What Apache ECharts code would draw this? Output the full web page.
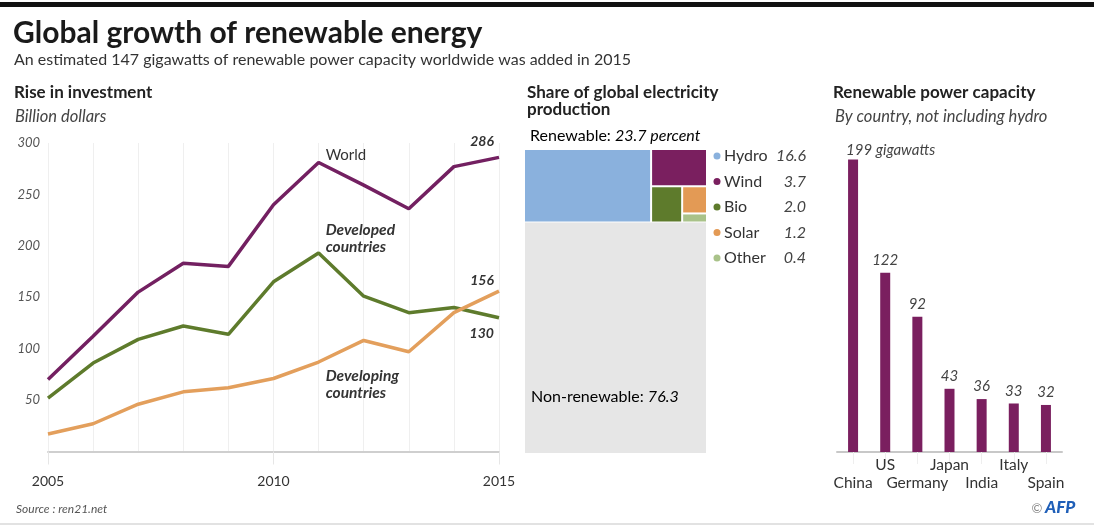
<!DOCTYPE html>
<html><head><meta charset="utf-8">
<script src="https://cdn.jsdelivr.net/npm/echarts@6/dist/echarts.min.js"></script>
<style>html,body{margin:0;padding:0;background:#fff;}#c{width:1094px;height:529px;}</style>
</head><body><div id="c"></div>
<script>
// ---- Data ----
const years = ['2005','2006','2007','2008','2009','2010','2011','2012','2013','2014','2015'];
const worldInvestment      = [70, 112, 155, 183, 180, 240, 281, 259, 236, 277, 286];
const developedInvestment  = [52,  86, 109, 122, 114, 165, 193, 151, 135, 140, 130];
const developingInvestment = [17,  27,  46,  58,  62,  71,  87, 108,  97, 135, 156];
const investmentSeriesNames = ['World', 'Developed countries', 'Developing countries'];

const energySources = ['Hydro', 'Wind', 'Bio', 'Solar', 'Other'];
const energyShares  = [16.6, 3.7, 2.0, 1.2, 0.4];
const renewableTotal = 23.7;
const nonRenewableShare = 76.3;

const countries  = ['China', 'US', 'Germany', 'Japan', 'India', 'Italy', 'Spain'];
const capacityGW = [199, 122, 92, 43, 36, 33, 32];

// ---- Styles ----
const FONT = 'Lato';
const C_WORLD = '#732061', C_DEV = '#5e7b2c', C_DEVING = '#e39f5c';
const energyColors = ['#8ab1dd', '#7a1f5f', '#5e7b2c', '#e39a55', '#a9c289'];

const chart = echarts.init(document.getElementById('c'), null, {renderer: 'canvas'});

function txt(x, y, text, font, fill, align) {
  return {
    type: 'text', x: x, y: y, z: 100, silent: true,
    style: { text: text, font: font, fill: fill || '#222', textAlign: align || 'left',
             textVerticalAlign: 'middle', align: align || 'left', verticalAlign: 'middle' }
  };
}
function richTxt(x, y, text, rich) {
  return { type: 'text', x: x, y: y, z: 100, silent: true,
    style: { text: text, textVerticalAlign: 'middle', verticalAlign: 'middle', rich: rich } };
}

const lastIdx = years.length - 1;
const annIdx = 6; // 2011
function lineData(values, nameLabel, endLabel) {
  return values.map((v, i) => {
    if (i === annIdx) return { value: v, label: Object.assign({ show: true }, nameLabel) };
    if (i === lastIdx) return { value: v, label: Object.assign({ show: true, formatter: '{c}' }, endLabel) };
    return v;
  });
}
const endLabelStyle = { position: 'left', distance: 5, fontFamily: FONT, fontStyle: 'italic', fontWeight: 'bold', fontSize: 14, color: '#333' };
const richPlainItalic = (size) => ({
  n: { fontFamily: FONT, fontSize: size, color: '#444' },
  i: { fontFamily: FONT, fontSize: size, fontStyle: 'italic', color: '#444' }
});

const graphics = [
  { type: 'rect', shape: { x: 0, y: 2, width: 1094, height: 5 }, style: { fill: '#111' }, silent: true },
  txt(13, 33, 'Global growth of renewable energy', 'bold 30px ' + FONT, '#1a1a1a'),
  txt(14, 60, 'An estimated 147 gigawatts of renewable power capacity worldwide was added in 2015', '16px ' + FONT, '#333'),
  txt(14, 93, 'Rise in investment', 'bold 17px ' + FONT, '#222'),
  txt(15, 117, 'Billion dollars', 'italic 16.5px ' + FONT, '#444'),
  txt(527, 93, 'Share of global electricity', 'bold 17px ' + FONT, '#222'),
  txt(527, 110, 'production', 'bold 17px ' + FONT, '#222'),
  richTxt(530, 136, '{n|Renewable: }{i|' + renewableTotal + ' percent}', richPlainItalic(16)),
  richTxt(531, 397, '{n|Non-renewable: }{i|' + nonRenewableShare + '}', richPlainItalic(16)),
  txt(833, 93, 'Renewable power capacity', 'bold 17px ' + FONT, '#222'),
  txt(835, 117, 'By country, not including hydro', 'italic 16.5px ' + FONT, '#444'),
  txt(16, 509, 'Source : ren21.net', 'italic 12px ' + FONT, '#555'),
  txt(1037, 509, '\u00a9', '13px ' + FONT, '#888', 'center'),
  txt(1045, 508, 'AFP', 'italic 900 17px ' + FONT, '#1f5fb8'),
  { type: 'rect', shape: { x: 0, y: 523, width: 1094, height: 2 }, style: { fill: '#e2e2e2' }, silent: true }
];
energySources.forEach((name, i) => {
  const y = 156 + 25.5 * i;
  graphics.push({ type: 'circle', z: 100, shape: { cx: 717, cy: y, r: 3.5 }, style: { fill: energyColors[i] }, silent: true });
  graphics.push(txt(724, y, name, '16px ' + FONT, '#333'));
  graphics.push(txt(806, y, energyShares[i].toFixed(1), 'italic 16px ' + FONT, '#444', 'right'));
});

const option = {
  animation: false,
  graphic: { elements: graphics },
  grid: [
    { left: 48, top: 143, width: 451, height: 308.5 },
    { left: 837, top: 158, width: 225, height: 294 }
  ],
  xAxis: [
    { gridIndex: 0, type: 'category', data: years, boundaryGap: false,
      axisLine: { lineStyle: { color: '#cfcfcf', width: 2 } },
      axisTick: { show: true, interval: 4, length: 13, lineStyle: { color: '#e6e6e6' } },
      axisLabel: { interval: 4, margin: 23, fontFamily: FONT, fontSize: 14, color: '#333' },
      splitLine: { show: true, interval: 0, lineStyle: { color: '#efefef' } } },
    { gridIndex: 1, type: 'category', data: countries, boundaryGap: true,
      axisLine: { lineStyle: { color: '#c8c8c8', width: 2 } },
      axisTick: { show: true, alignWithLabel: true, length: 12, lineStyle: { color: '#eeeeee' } },
      axisLabel: { interval: 0, margin: 4, fontFamily: FONT, fontSize: 15.5, color: '#333', lineHeight: 18,
        formatter: (v, i) => (i % 2 === 0 ? '\n' + v : v) } }
  ],
  yAxis: [
    { gridIndex: 0, type: 'value', min: 0, max: 300, interval: 50,
      axisLine: { show: false }, axisTick: { show: false }, splitLine: { show: false },
      axisLabel: { margin: 8, fontFamily: FONT, fontSize: 13, fontStyle: 'italic', color: '#555',
        formatter: v => (v === 0 ? '' : v) } },
    { gridIndex: 1, type: 'value', min: 0, max: 200, show: false, splitLine: { show: false } }
  ],
  series: [
    { type: 'line', name: investmentSeriesNames[0], xAxisIndex: 0, yAxisIndex: 0, symbol: 'circle', symbolSize: 0.1,
      lineStyle: { color: C_WORLD, width: 3.5 }, itemStyle: { color: C_WORLD },
      data: lineData(worldInvestment,
        { formatter: investmentSeriesNames[0], position: 'right', distance: 5, offset: [2, -7], fontFamily: FONT, fontSize: 15, color: '#333' },
        Object.assign({ offset: [0, -16] }, endLabelStyle)) },
    { type: 'line', name: investmentSeriesNames[1], xAxisIndex: 0, yAxisIndex: 0, symbol: 'circle', symbolSize: 0.1,
      lineStyle: { color: C_DEV, width: 3.5 }, itemStyle: { color: C_DEV },
      data: lineData(developedInvestment,
        { formatter: investmentSeriesNames[1].replace(' ', '\n'), position: 'right', distance: 5, offset: [2, -15], lineHeight: 17,
          fontFamily: FONT, fontSize: 15.5, fontStyle: 'italic', fontWeight: 'bold', color: '#333', align: 'left' },
        Object.assign({ offset: [0, 16] }, endLabelStyle)) },
    { type: 'line', name: investmentSeriesNames[2], xAxisIndex: 0, yAxisIndex: 0, symbol: 'circle', symbolSize: 0.1,
      lineStyle: { color: C_DEVING, width: 3.5 }, itemStyle: { color: C_DEVING },
      data: lineData(developingInvestment,
        { formatter: investmentSeriesNames[2].replace(' ', '\n'), position: 'right', distance: 5, offset: [2, 22], lineHeight: 17,
          fontFamily: FONT, fontSize: 15.5, fontStyle: 'italic', fontWeight: 'bold', color: '#333', align: 'left' },
        Object.assign({ offset: [0, -11] }, endLabelStyle)) },
    { type: 'bar', xAxisIndex: 1, yAxisIndex: 1, barWidth: 10,
      itemStyle: { color: '#7a1f5f' },
      label: { show: true, position: 'top', distance: 5, fontFamily: FONT, fontSize: 15, fontStyle: 'italic', color: '#444' },
      data: capacityGW.map((v, i) => i === 0
        ? { value: v, label: { formatter: '{c} gigawatts', align: 'left', offset: [-7, 0], distance: 2 } }
        : v) },
    { type: 'treemap', left: 525, top: 150, width: 181, height: 303, z: 2,
      sort: false, squareRatio: 1, roam: false, nodeClick: false,
      breadcrumb: { show: false }, silent: true,
      label: { show: false }, upperLabel: { show: false, height: 0 },
      itemStyle: { borderWidth: 0, gapWidth: 0 },
      levels: [
        { itemStyle: { borderWidth: 0, gapWidth: 1 } },
        { itemStyle: { borderWidth: 0, gapWidth: 2 } },
        { itemStyle: { borderWidth: 0, gapWidth: 0 } }
      ],
      data: [
        { name: 'Renewable', children: energySources.map((n, i) => ({ name: n, value: energyShares[i], itemStyle: { color: energyColors[i] } })) },
        { name: 'Non-renewable', value: nonRenewableShare, itemStyle: { color: '#e6e6e6' } }
      ] }
  ]
};
chart.setOption(option);
</script></body></html>
